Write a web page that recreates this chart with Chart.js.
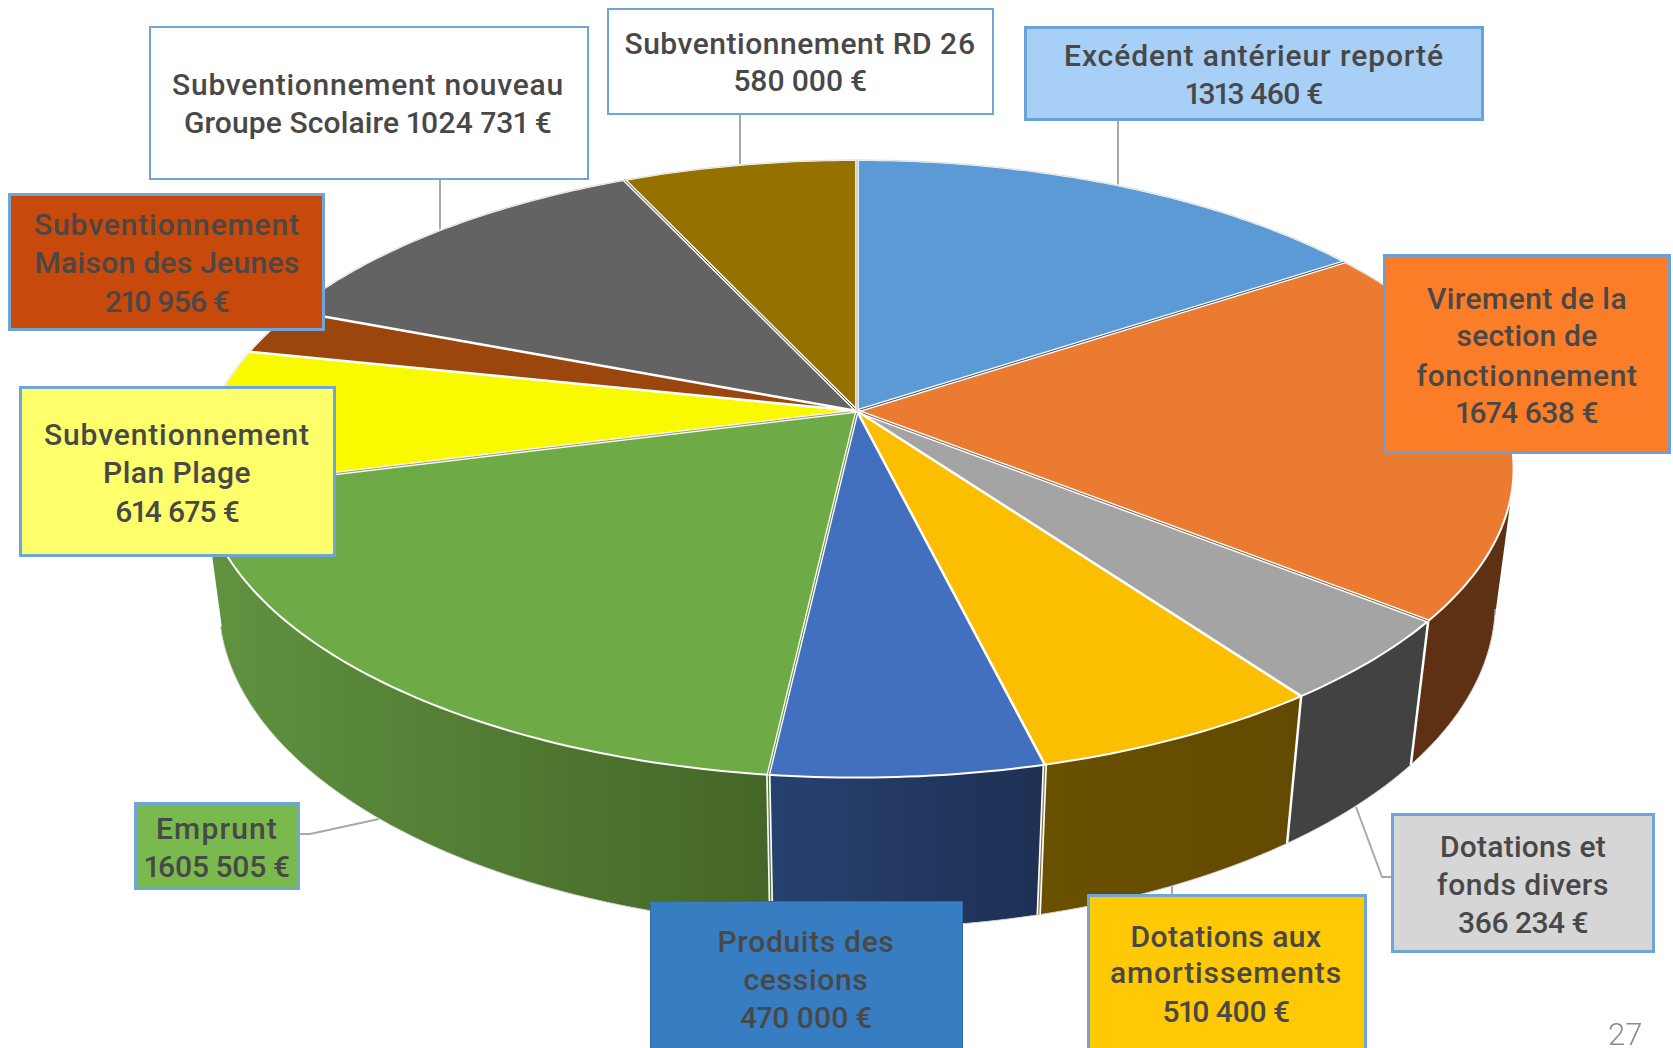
<!DOCTYPE html>
<html lang="fr">
<head>
<meta charset="utf-8">
<title>Recettes d'investissement</title>
<script src="https://cdn.jsdelivr.net/npm/chart.js@4"></script>
<style>
    html, body { margin: 0; padding: 0; background: #fff; overflow: hidden; }
    #stage { position: relative; width: 1673px; height: 1048px; overflow: hidden; }
    #pie { position: absolute; left: 0; top: 0; }
    .box { position: absolute; box-sizing: border-box; border-style: solid; }
    .line {
        position: absolute; transform: translate(-50%, calc(-50% - 1px)); white-space: nowrap;
        font-family: Roboto, sans-serif; font-size: 30px; font-weight: 500; color: #484848;
        font-feature-settings: "pnum";
    }
    #page { position: absolute; left: 1608px; top: 1016px; font-family: Roboto, sans-serif; font-size: 31px; font-weight: 300; color: #8c8c8c; }
</style>
</head>
<body>
<div id="stage">
    <canvas id="pie" width="1673" height="1048"></canvas>
    <div id="page">27</div>
</div>
<script>
const categories = ['Excédent antérieur reporté', 'Virement de la section de fonctionnement', 'Dotations et fonds divers',
    'Dotations aux amortissements', 'Produits des cessions', 'Emprunt', 'Subventionnement Plan Plage',
    'Subventionnement Maison des Jeunes', 'Subventionnement nouveau Groupe Scolaire', 'Subventionnement RD 26'];
const amounts = [1313460, 1674638, 366234, 510400, 470000, 1605505, 614675, 210956, 1024731, 580000];
const topColors = ['#5b9ad5', '#ea7b31', '#a4a4a4', '#fbbe00', '#4270be', '#6eab47', '#f9f900', '#9a460d', '#636363', '#957100'];
const wallLeft = ['#375d80', '#5e3014', '#424242', '#6a5000', '#27416f', '#609340', '#959500', '#5c2a08', '#3b3b3b', '#5a4400'];
const wallRight = ['#375d80', '#5e3014', '#424242', '#624a00', '#1e3054', '#446527', '#959500', '#5c2a08', '#3b3b3b', '#5a4400'];
// colour showing inside the white gap at the end of each slice
const seamColors = ['#38536e', '#8a5a3a', null, null, '#5d8f3c', '#9c9c70', null, null, '#4d4a30', '#a8a8a8'];
const wallSeams = [null, null, null, '#8c7a40', '#4f7d33', null, null, null, null, null];

const labelLines = [
    ['Excédent antérieur reporté', '1313 460 €'],
    ['Virement de la', 'section de', 'fonctionnement', '1674 638 €'],
    ['Dotations et', 'fonds divers', '366 234 €'],
    ['Dotations aux', 'amortissements', '510 400 €'],
    ['Produits des', 'cessions', '470 000 €'],
    ['Emprunt', '1605 505 €'],
    ['Subventionnement', 'Plan Plage', '614 675 €'],
    ['Subventionnement', 'Maison des Jeunes', '210 956 €'],
    ['Subventionnement nouveau', 'Groupe Scolaire 1024 731 €'],
    ['Subventionnement RD 26', '580 000 €']
];

// label boxes: x0, y0, x1, y1, fill, border colour, border width, text x, y of each line, width of each line
const boxLayout = [
    [1024, 26, 1484, 121, '#a8cff5', '#6aa3da', 3, 1254, [56, 94], [380, 137]],
    [1383, 254, 1671, 454, '#fb7d28', '#6f9fd0', 3, 1527, [299, 336, 376, 413], [200, 141, 221, 142]],
    [1391, 813, 1655, 953, '#d6d6d6', '#6fa5d7', 3, 1523, [847, 885, 923], [166, 172, 130]],
    [1087, 894, 1367, 1060, '#ffc905', '#6fa5d7', 3, 1226, [937, 973, 1012], [191, 232, 127]],
    [650, 901, 963, 1060, '#377dc2', '#2f6aa5', 1, 806, [942, 980, 1018], [177, 125, 132]],
    [134, 802, 300, 890, '#7ab94e', '#6fa5d7', 3, 217, [829, 867], [122, 145]],
    [19, 386, 336, 557, '#ffff6b', '#6fa5d7', 3, 177, [435, 473, 512], [266, 148, 124]],
    [8, 193, 325, 331, '#c7490c', '#6fa5d7', 3, 167, [225, 263, 302], [266, 265, 124]],
    [149, 26, 589, 180, '#ffffff', '#6fa5d7', 2, 368, [85, 123], [392, 368]],
    [607, 8, 994, 115, '#ffffff', '#6fa5d7', 2, 800, [44, 81], [351, 133]]
];

const leaderLines = [
    [[740, 115], [740, 166]],
    [[1118, 120], [1118, 187]],
    [[440, 179], [440, 232]],
    [[300, 834], [310, 834], [379, 819]],
    [[1356, 807], [1382, 877], [1391, 877]],
    [[1172, 883], [1172, 895]]
];

// perspective of the disc: centre, radii, tilt, then depth of the side and where verticals converge
const CX = 857, CY = 411, RX = 645, RY = 298, TILT = 0.187;
const DEPTH = 0.0278, VX = 859, VY = 5335;

function project(angle, radius, z) {
    const u = Math.cos(angle) * radius, v = Math.sin(angle) * radius;
    const w = 1 - TILT * v, d = w + z;
    return [(RX * u + CX * w + z * VX) / d, (RY * v + CY * w + z * VY) / d];
}

function rimAngles(start, end) {
    const n = Math.max(2, Math.ceil((end - start) / 0.015));
    const list = [];
    for (let i = 0; i <= n; i++) list.push(start + (end - start) * i / n);
    return list;
}

function strokePath(ctx, pts, color, width) {
    ctx.beginPath();
    pts.forEach((p, i) => i ? ctx.lineTo(p[0], p[1]) : ctx.moveTo(p[0], p[1]));
    ctx.strokeStyle = color;
    ctx.lineWidth = width;
    ctx.stroke();
}

const pie3d = {
    id: 'pie3d',
    beforeDatasetsDraw(chart) {
        const ctx = chart.ctx;
        const arcs = chart.getDatasetMeta(0).data;

        ctx.save();
        ctx.lineJoin = 'round';
        leaderLines.forEach(pts => strokePath(ctx, pts, '#a9a9a9', 2));

        // side walls, back ones first
        const order = arcs.map((a, i) => i).sort((i, j) =>
            Math.sin((arcs[i].startAngle + arcs[i].endAngle) / 2) - Math.sin((arcs[j].startAngle + arcs[j].endAngle) / 2));
        order.forEach(i => {
            const arc = arcs[i];
            const angles = rimAngles(arc.startAngle, arc.endAngle);
            const upper = angles.map(a => project(a, 1, 0));
            const lower = angles.map(a => project(a, 1, DEPTH));
            const xs = upper.concat(lower).map(p => p[0]);
            const grad = ctx.createLinearGradient(Math.min(...xs), 0, Math.max(...xs), 0);
            grad.addColorStop(0, wallLeft[i]);
            grad.addColorStop(1, wallRight[i]);
            // all quads in one path, same winding, so the fold round the tangent stays filled
            ctx.beginPath();
            for (let k = 0; k < angles.length - 1; k++) {
                let quad = [upper[k], upper[k + 1], lower[k + 1], lower[k]];
                const area = quad.reduce((s, p, n) => {
                    const q = quad[(n + 1) % 4];
                    return s + p[0] * q[1] - q[0] * p[1];
                }, 0);
                if (area < 0) quad = quad.reverse();
                quad.forEach((p, n) => n ? ctx.lineTo(p[0], p[1]) : ctx.moveTo(p[0], p[1]));
                ctx.closePath();
            }
            ctx.fillStyle = grad;
            ctx.fill();
        });
        // fine grey edge under the visible part of the side
        strokePath(ctx, rimAngles(0.2, Math.PI - 0.2).map(a => project(a, 1, DEPTH)), '#d4d4d4', 1);
        arcs.forEach((arc, i) => {
            const edge = [project(arc.endAngle, 1, 0), project(arc.endAngle, 1, DEPTH)];
            if (wallSeams[i]) {
                strokePath(ctx, edge, '#ffffff', 4.5);
                strokePath(ctx, edge, wallSeams[i], 1.2);
            } else {
                strokePath(ctx, edge, '#ffffff', 2.5);
            }
        });

        // top face
        arcs.forEach((arc, i) => {
            ctx.beginPath();
            ctx.moveTo(CX, CY);
            rimAngles(arc.startAngle, arc.endAngle).forEach(a => {
                const p = project(a, 1, 0);
                ctx.lineTo(p[0], p[1]);
            });
            ctx.closePath();
            ctx.fillStyle = topColors[i];
            ctx.fill();
            strokePath(ctx, rimAngles(arc.startAngle, arc.endAngle).map(a => project(a, 1, 0)), '#ffffff', 2);
        });
        // white gaps between slices, some with a thin core
        arcs.forEach((arc, i) => {
            const spoke = [[CX, CY], project(arc.endAngle, 1, 0)];
            strokePath(ctx, spoke, '#ffffff', seamColors[i] ? 3.6 : 2.6);
            if (seamColors[i]) strokePath(ctx, spoke, seamColors[i], 1);
        });
        // the far rim has a fine grey edge
        strokePath(ctx, rimAngles(-Math.PI, 0).map(a => project(a, 1, 0)), '#dcdcdc', 1);
        ctx.restore();
        return false;
    }
};

new Chart(document.getElementById('pie').getContext('2d'), {
    type: 'pie',
    data: {
        labels: categories,
        datasets: [{ data: amounts, backgroundColor: topColors }]
    },
    options: {
        responsive: false,
        animation: false,
        plugins: { legend: { display: false }, tooltip: { enabled: false } }
    },
    plugins: [pie3d]
});

const stage = document.getElementById('stage');
boxLayout.forEach((b, i) => {
    const box = document.createElement('div');
    box.className = 'box';
    box.style.cssText = `left:${b[0]}px;top:${b[1]}px;width:${b[2] - b[0]}px;height:${b[3] - b[1]}px;` +
        `background:${b[4]};border-color:${b[5]};border-width:${b[6]}px;`;
    stage.appendChild(box);
    labelLines[i].forEach((text, k) => {
        const line = document.createElement('div');
        line.className = 'line';
        line.textContent = text;
        line.style.left = b[7] + 'px';
        line.style.top = b[8][k] + 'px';
        stage.appendChild(line);
        // squeeze or spread the line to the width it has in the picture
        const spare = b[9][k] - line.getBoundingClientRect().width;
        line.style.letterSpacing = (spare / text.length).toFixed(2) + 'px';
    });
});
</script>
</body>
</html>
